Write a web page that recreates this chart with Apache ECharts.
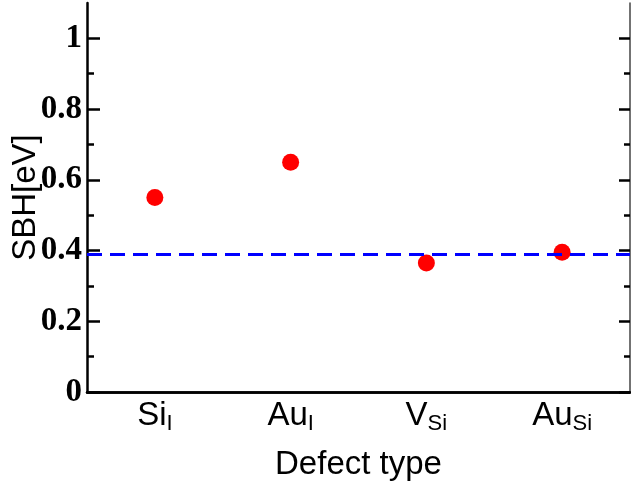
<!DOCTYPE html>
<html>
<head>
<meta charset="utf-8">
<script src="https://cdn.jsdelivr.net/npm/echarts@6/dist/echarts.min.js"></script>
<style>
  html, body { margin: 0; padding: 0; background: #fff; }
  #chart { width: 631px; height: 486px; }
</style>
</head>
<body>
<div id="chart"></div>
<script>
// defect names with subscripts
var defects = ["Si", "Au", "V", "Au"];
var subs = ["I", "I", "Si", "Si"];
var sbh = [0.55, 0.65, 0.365, 0.395];
var refLine = 0.39;
var majorTicks = [0, 0.2, 0.4, 0.6, 0.8, 1];
var minorTicks = [0.1, 0.3, 0.5, 0.7, 0.9];

var cats = defects.map(function (d, i) { return d + "|" + subs[i]; });

var sans = "'Liberation Sans', Arial, sans-serif";
var serif = "'Liberation Serif', 'Times New Roman', serif";

function yAx(pos, values, len, withLabel, withLine) {
  return {
    type: "value",
    position: pos,
    min: 0,
    max: 1.1,
    interval: 0.1,
    axisLine: { show: withLine, lineStyle: pos == "left"
      ? { color: "#000", width: 2.5 } : { color: "#444", width: 1.5 } },
    axisTick: { show: true, inside: true, length: len, customValues: values,
      lineStyle: { color: "#000", width: 2.5 } },
    axisLabel: withLabel ? {
      show: true, customValues: majorTicks, margin: 5,
      fontFamily: serif, fontWeight: "bold", fontSize: 33, color: "#000",
      formatter: function (v) { return String(Math.round(v * 10) / 10); }
    } : { show: false },
    splitLine: { show: false },
    name: withLabel ? "SBH[eV]" : "",
    nameLocation: "middle",
    nameRotate: 90,
    nameGap: 45,
    nameMoveOverlap: false,
    nameTextStyle: { fontFamily: sans, fontSize: 33, color: "#000" }
  };
}

var chart = echarts.init(document.getElementById("chart"));
chart.setOption({
  animation: false,
  grid: { left: 87, right: 1, top: 3, bottom: 94, outerBoundsMode: "none", containLabel: false },
  xAxis: [
    {
      type: "category",
      data: cats,
      position: "bottom",
      axisLine: { lineStyle: { color: "#000", width: 2.5 } },
      axisTick: { inside: true, alignWithLabel: true, length: 13,
        lineStyle: { color: "#000", width: 2.5 } },
      axisLabel: {
        margin: 6,
        formatter: function (v) {
          var p = v.split("|");
          return "{m|" + p[0] + "}{s|" + p[1] + "}";
        },
        rich: {
          m: { fontFamily: sans, fontSize: 33, lineHeight: 36, color: "#000" },
          s: { fontFamily: sans, fontSize: 22, lineHeight: 20, padding: [16, 0, 0, 0], color: "#000" }
        }
      },
      name: "Defect type",
      nameLocation: "middle",
      nameGap: 56,
      nameMoveOverlap: false,
      nameTextStyle: { fontFamily: sans, fontSize: 33, color: "#000" }
    },
    {
      type: "category",
      data: cats,
      position: "top",
      axisLine: { lineStyle: { color: "#000", width: 2.5 } },
      axisTick: { inside: true, alignWithLabel: true, length: 11,
        lineStyle: { color: "#000", width: 2.5 } },
      axisLabel: { show: false }
    }
  ],
  yAxis: [
    yAx("left", majorTicks, 13, true, true),
    yAx("left", minorTicks, 7, false, false),
    yAx("right", majorTicks, 11, false, true),
    yAx("right", minorTicks, 6, false, false)
  ],
  series: [
    {
      type: "scatter",
      xAxisIndex: 0,
      yAxisIndex: 0,
      data: sbh,
      symbolSize: 17,
      itemStyle: { color: "#ff0000", opacity: 1 },
      markLine: {
        silent: true,
        symbol: "none",
        label: { show: false },
        lineStyle: { color: "#0000ff", width: 3, type: [15, 8], opacity: 1 },
        data: [{ yAxis: refLine }]
      }
    }
  ]
});
</script>
</body>
</html>
